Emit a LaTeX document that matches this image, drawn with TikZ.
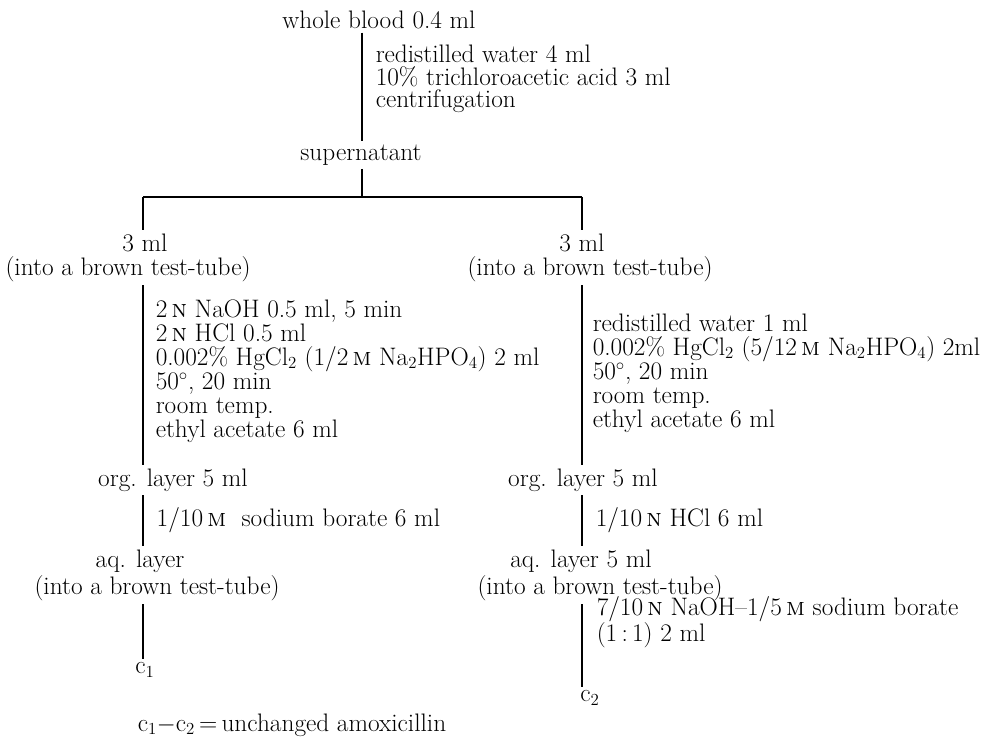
\documentclass[tikz,border=0pt]{standalone}
\usepackage{tikz}
\usetikzlibrary{positioning,calc}
\newcommand{\nrm}{\textsc{n}}
\newcommand{\mol}{\textsc{m}}

\tikzset{
  txt/.style={font=\fontsize{21.6}{20.4}\selectfont,inner sep=3pt},
  reag/.style={txt,align=left,anchor=west},
  flow/.style={line width=1pt}
}

\begin{document}
\begin{tikzpicture}[x=0.03cm,y=-0.03cm]
        \useasboundingbox (0,0) rectangle (997,738);
        % stem
        \node[txt] (blood) at (379,20) {whole blood 0.4 ml};
        \node[reag,font=\fontsize{21.6}{19}\selectfont] (r0) at (372,79) {redistilled water 4 ml\\10\% trichloroacetic acid 3 ml\\centrifugation};
        \node[txt] (super) at (361,155) {supernatant};
        \coordinate (ax) at (362,197);
        \coordinate (lx) at (143,197);
        \coordinate (rx) at (582,197);
        \draw[flow] (blood.south -| ax) -- (super.north -| ax);
        \draw[flow] (super.south -| ax) -- (ax);
        \draw[flow] (lx) -- (rx);
        % left branch
        \node[txt] (l3) at (145,243) {3 ml};
        \node[txt] (ltube) at (128,269) {(into a brown test-tube)};
        \node[reag] (lreag) at (152,371) {2\,\nrm\ NaOH 0.5 ml, 5 min\\2\,\nrm\ HCl 0.5 ml\\0.002\% HgCl$_2$ (1/2\,\mol\ Na$_2$HPO$_4$) 2 ml\\50$^\circ$, 20 min\\room temp.\\ethyl acetate 6 ml};
        \node[txt] (lorg) at (173,480) {org. layer 5 ml};
        \node[reag] (lnote) at (153,520) {1/10\,\mol\ \ sodium borate 6 ml};
        \node[txt] (laq) at (140,561) {aq. layer};
        \node[txt] (ltube2) at (157,588) {(into a brown test-tube)};
        \node[txt] (c1) at (145,670) {c$_1$};
        \draw[flow] (lx) -- (l3.north -| lx);
        \draw[flow] (ltube.south -| lx) -- (lorg.north -| lx);
        \draw[flow] (lorg.south -| lx) -- (laq.north -| lx);
        \draw[flow] (ltube2.south -| lx) -- (c1.north -| lx);
        % right branch
        \node[txt] (r3) at (582,243) {3 ml};
        \node[txt] (rtube) at (590,269) {(into a brown test-tube)};
        \node[reag] (rreag) at (589,373) {redistilled water 1 ml\\0.002\% HgCl$_2$ (5/12\,\mol\ Na$_2$HPO$_4$) 2ml\\50$^\circ$, 20 min\\room temp.\\ethyl acetate 6 ml};
        \node[txt] (rorg) at (583,480) {org. layer 5 ml};
        \node[reag] (rnote) at (592,520) {1/10\,\nrm\ HCl 6 ml};
        \node[txt] (raq) at (581,561) {aq. layer 5 ml};
        \node[txt] (rtube2) at (600,588) {(into a brown test-tube)};
        \node[reag] (rfin) at (593,622) {7/10\,\nrm\ NaOH--1/5\,\mol\ sodium borate\\(1\,:\,1) 2 ml};
        \node[txt] (c2) at (590,698) {c$_2$};
        \draw[flow] (rx) -- (r3.north -| rx);
        \draw[flow] (rtube.south -| rx) -- (rorg.north -| rx);
        \draw[flow] (rorg.south -| rx) -- (raq.north -| rx);
        \draw[flow] (rtube2.south -| rx) -- (c2.north -| rx);
        % result
        \node[txt] (res) at (292,725) {c$_1-$c$_2$\,=\,unchanged amoxicillin};
\end{tikzpicture}
\end{document}
